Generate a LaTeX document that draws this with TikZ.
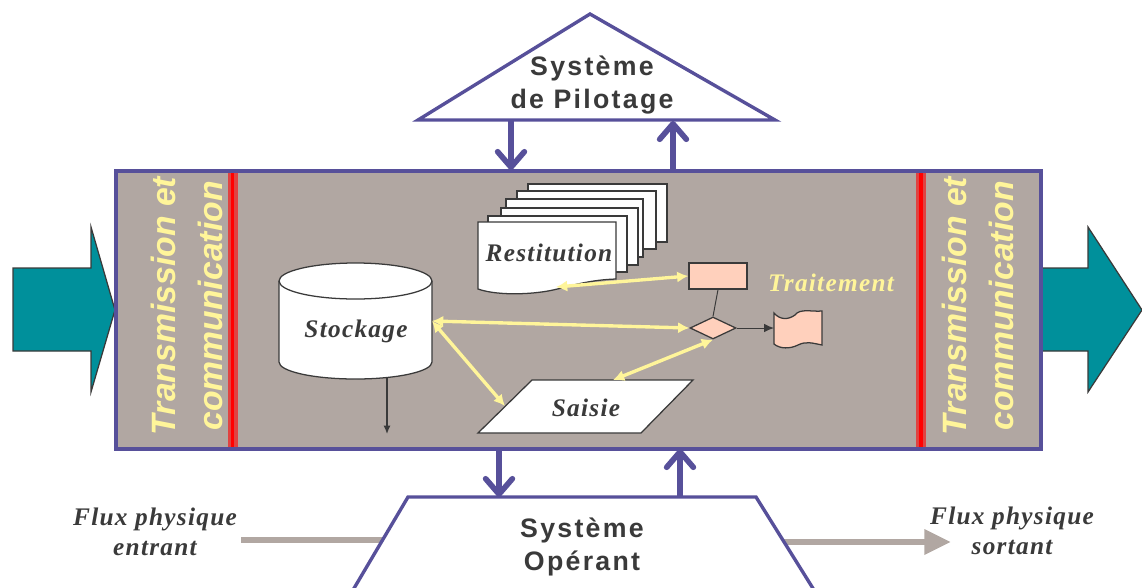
\documentclass[tikz,border=0pt]{standalone}
\usepackage{fontspec}
\setmainfont{Liberation Serif}
\setsansfont{Liberation Sans}
\usetikzlibrary{arrows.meta, shapes.geometric}
\definecolor{violet}{HTML}{57509A}
\definecolor{taupe}{HTML}{B1A7A2}
\definecolor{canard}{HTML}{00909B}
\definecolor{jaune}{HTML}{FFF59A}
\definecolor{saumon}{HTML}{FFD0BC}
\definecolor{encre}{HTML}{3A3A3A}
\tikzset{
    lien/.style={violet, line width=4pt, -{Straight Barb[length=11pt, width=19pt, line width=4pt, round]}},
    contour/.style={draw=violet, line width=2.4pt, fill=white},
    flux/.style={taupe, line width=4.6pt},
    grosse/.style={draw=encre, line width=0.9pt, fill=canard},
    feuille/.style={draw=encre, line width=0.9pt, fill=white},
    forme/.style={draw=encre, line width=0.9pt, fill=saumon},
    jaunelien/.style={jaune, line width=2.4pt, {Latex[length=8pt, width=8pt]}-{Latex[length=8pt, width=8pt]}},
    titre/.style={font=\sffamily\bfseries\fontsize{19}{24}\selectfont\addfontfeature{LetterSpace=8.5}, text=encre, align=center, inner sep=0},
    etiquette/.style={font=\itshape\bfseries\fontsize{18}{21}\selectfont\addfontfeature{LetterSpace=5}, text=encre, align=center, inner sep=0},
    bandeau/.style={font=\sffamily\itshape\bfseries\fontsize{24}{33}\selectfont, text=jaune, align=center, rotate=90, inner sep=0}
}
\begin{document}
\begin{tikzpicture}[x=0.025cm, y=-0.025cm]
        \useasboundingbox (0,0) rectangle (1142,587);
        \clip (0,0) rectangle (1142,587);
        % flux physiques, sous le trapeze
        \coordinate (fluxA) at (241,540);
        \coordinate (fluxB) at (400,540);
        \coordinate (fluxC) at (770,542);
        \coordinate (fluxD) at (951,542);
        \draw[flux] (fluxA) -- (fluxB);
        \draw[flux, -{Triangle[length=19pt, width=17pt]}] (fluxC) -- (fluxD);
        % grosses fleches
        \draw[grosse] (13,268) -- (91,268) -- (91,227) -- (115,310) -- (91,392) -- (91,351) -- (13,351) -- cycle;
        \draw[grosse] (1042,268) -- (1088,268) -- (1088,227) -- (1142,310) -- (1088,392) -- (1088,351) -- (1042,351) -- cycle;
        % cadre central
        \draw[violet, line width=3.2pt, fill=taupe] (116,171) rectangle (1041,449);
        \foreach \xr in {232.6,921} {
            \draw[red!60!taupe, line width=7pt] (\xr,173) -- (\xr,447);
            \draw[red, line width=2.2pt] (\xr,173) -- (\xr,447);
        }
        \node[bandeau] (transG) at (187,306) {Transmission et\\communication};
        \node[bandeau] (transD) at (978,306) {Transmission et\\communication};
        % systeme de pilotage
        \draw[contour] (590,14) -- (775,120) -- (418,120) -- cycle;
        \node[titre] (pilotage) at (592,85) {Système\\de Pilotage};
        \coordinate (pilotA) at (511,121);
        \coordinate (pilotB) at (673,121);
        \coordinate (cadreA) at (511,170);
        \coordinate (cadreB) at (673,170);
        \draw[lien] (pilotA) -- (cadreA);
        \draw[lien] (cadreB) -- (pilotB);
        % systeme operant
        \draw[contour] (353,590) -- (408,497) -- (756,497) -- (814,590);
        \node[titre] (operant) at (582,547) {Système\\Opérant};
        \coordinate (operA) at (499,497);
        \coordinate (operB) at (680,497);
        \coordinate (cadreC) at (499,449);
        \coordinate (cadreD) at (680,449);
        \draw[lien] (cadreC) -- (operA);
        \draw[lien] (operB) -- (cadreD);
        \node[etiquette] (entrant) at (155,532) {Flux physique\\entrant};
        \node[etiquette] (sortant) at (1012,531) {Flux physique\\sortant};
        % restitution
        \foreach \xg/\yh/\xd/\yb in {528/184/667/242, 517/191/656/249, 506/199/643/257, 501/208/638/265, 488/216/627/272} {
            \draw[feuille] (\xg,\yh) rectangle (\xd,\yb);
        }
        \draw[feuille] (478,222) -- (616,222) -- (616,279) .. controls (585,280) and (565,288) .. (548,291) .. controls (525,295) and (495,295) .. (478,289) -- cycle;
        \node[etiquette] (restitution) at (549,253) {Restitution};
        \coordinate (restitA) at (556,287);
        % stockage
        \draw[feuille] (279,281) -- (279,362) arc[start angle=180, end angle=0, x radius=76.5, y radius=17] -- (432,281);
        \draw[feuille] (355.5,281) ellipse[x radius=76.5, y radius=18];
        \node[etiquette] (stockage) at (356,331) {Stockage};
        \coordinate (stockA) at (432,321);
        \coordinate (stockB) at (387,378);
        \coordinate (stockC) at (387,434);
        \draw[encre, line width=0.9pt, -{Latex[length=6pt, width=5pt]}] (stockB) -- (stockC);
        % saisie
        \draw[feuille] (532,380) -- (693,380) -- (641,433) -- (478,433) -- cycle;
        \node[etiquette] (saisie) at (586,408) {Saisie};
        \coordinate (saisieA) at (505,406);
        \coordinate (saisieB) at (613,380);
        % traitement
        \node[forme, rectangle, minimum width=1.45cm, minimum height=0.65cm] (calcul) at (718,276) {};
        \node[forme, diamond, inner sep=0, minimum width=1.15cm, minimum height=0.55cm] (test) at (713,328) {};
        \draw[forme, line width=0.9pt] (774,313) .. controls (780,320) and (788,320) .. (795,315) .. controls (800,308) and (812,312) .. (822,311) -- (822,345) .. controls (812,343) and (806,341) .. (798,345) .. controls (790,349) and (780,349) .. (774,344) -- cycle;
        \coordinate (docA) at (774,328);
        \draw[encre, line width=0.7pt] (calcul.south) -- (test.north);
        \draw[encre, line width=0.7pt, -{Latex[length=7pt, width=6pt]}] (test.east) -- (docA);
        \node[etiquette, text=jaune] (traitement) at (831,283) {Traitement};
        % liaisons jaunes
        \draw[jaunelien] (restitA) -- (calcul.west);
        \draw[jaunelien] (stockA) -- (test.west);
        \draw[jaunelien] (stockA) -- (saisieA);
        \draw[jaunelien] (saisieB) -- (test.south);
    \end{tikzpicture}
\end{document}
